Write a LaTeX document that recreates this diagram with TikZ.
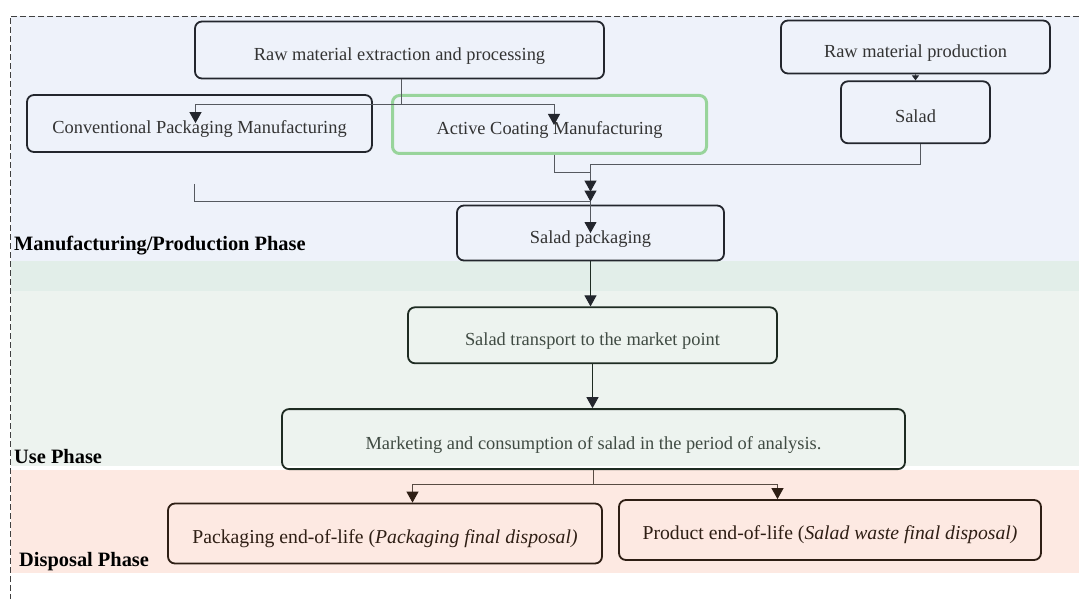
\documentclass[tikz,border=0pt]{standalone}
\usepackage{fontspec}
\setmainfont{Liberation Serif}
\usepackage{tikz}
\usetikzlibrary{positioning,arrows.meta,calc}
\definecolor{manufbg}{HTML}{EEF2FA}
\definecolor{gapbg}{HTML}{E2EEE9}
\definecolor{usebg}{HTML}{EDF3EF}
\definecolor{dispbg}{HTML}{FDE9E2}
\definecolor{mline}{HTML}{23262D}
\definecolor{uline}{HTML}{1E2B22}
\definecolor{dline}{HTML}{2E1E14}
\definecolor{coating}{HTML}{98D49B}
\definecolor{conn}{HTML}{55595F}
\tikzstyle{box1} = [rectangle, draw=mline, line width=1.8pt, rounded corners=7pt, %
   text=black!80, inner sep=0pt, font=\fontsize{18.4}{22}\selectfont, %
   text height=24.2pt, text depth=4pt]
\tikzstyle{box2} = [box1, draw=uline, text=uline!85]
\tikzstyle{box3} = [box1, draw=dline, text=dline, font=\fontsize{19.7}{24}\selectfont, %
   text height=23.6pt, text depth=4.4pt]
\tikzstyle{phase} = [inner sep=0pt, anchor=base west, font=\fontsize{20.4}{24}\selectfont\bfseries]
\tikzstyle{frame} = [draw=black!75, line width=0.8pt, dash pattern=on 6pt off 3pt]
\tikzstyle{line} = [draw=conn, line width=1pt, -{Triangle[length=11pt,width=12pt,color=mline]}]

\begin{document}
\begin{tikzpicture}[x=1pt,y=-1pt]
   \useasboundingbox (0,0) rectangle (1079,599);
   % Phase bands
   \fill[manufbg] (11,16) rectangle (1079,261);
   \fill[gapbg] (11,261) rectangle (1079,291);
   \fill[usebg] (11,291) rectangle (1079,466);
   \fill[dispbg] (11,470) rectangle (1079,573);
   \draw[frame] (1079,16) -- (10,16) -- (10,599);

   \node[phase] (manuflbl) at (14,250) {Manufacturing/Production Phase};
   \node[phase] (uselbl) at (14,463) {Use Phase};
   \node[phase] (displbl) at (19,566.5) {Disposal Phase};

   % MANUFACTURING %%%%%%%%%%%%%%%%%%%%%%%%%%%%%%%%%%%%%%%%%%%%%%%%%%
   \node[box1, minimum width=409pt, minimum height=57pt] (rawext) at (399.5,50) {%
      Raw material extraction and processing};
   \node[box1, minimum width=345pt, minimum height=57pt] (conv) at (199.5,123.5) {%
      Conventional Packaging Manufacturing};
   \node[box1, draw=coating, line width=3pt, minimum width=314pt, minimum height=58pt] %
      (coat) at (549.5,124.5) {Active Coating Manufacturing};
   \node[box1, minimum width=269pt, minimum height=53pt] (rawprod) at (915.5,47) {%
      Raw material production};
   \node[box1, below=6pt of rawprod, minimum width=149pt, minimum height=62pt] (salad) {Salad};
   \node[box1, minimum width=267pt, minimum height=55pt] (pack) at (590.5,233) {Salad packaging};

   % USE %%%%%%%%%%%%%%%%%%%%%%%%%%%%%%%%%%%%%%%%%%%%%%%%%%%%%%%%%%%%
   \node[box2, below=45pt of pack, xshift=2pt, minimum width=369pt, minimum height=56pt] %
      (transport) {Salad transport to the market point};
   \node[box2, below=44pt of transport, xshift=1pt, minimum width=623pt, minimum height=60pt] %
      (market) {Marketing and consumption of salad in the period of analysis.};

   % DISPOSAL %%%%%%%%%%%%%%%%%%%%%%%%%%%%%%%%%%%%%%%%%%%%%%%%%%%%%%%
   \node[box3, minimum width=434pt, minimum height=60pt] (pkgeol) at (385,533.5) {%
      Packaging end-of-life (\textit{Packaging final disposal)}};
   \node[box3, minimum width=422pt, minimum height=60pt] (prodeol) at (830,530) {%
      Product end-of-life (\textit{Salad waste final disposal)}};

   % Draw edges
   \path [line] ([xshift=2pt]rawext.south) -- ++(0,25) coordinate (forkA) -| %
      ([xshift=-4pt,yshift=-29pt]conv.north);
   \path [line] (forkA) -| ([xshift=4.5pt,yshift=-31pt]coat.north);
   \path [line, -{Triangle[length=5pt,width=7pt,color=mline]}] (rawprod.south) -- (salad.north);
   \path [line] ([xshift=5pt]coat.south) -- ++(0,17) -| ([yshift=3pt]pack.north);
   \path [line] ([xshift=4.5pt]salad.south) -- ++(0,20) -| ([yshift=13pt]pack.north);
   \coordinate (convtail) at ([xshift=-5pt,yshift=-31pt]conv.south);
   \path [line] (convtail) -- ++(0,18) -| (pack.center);
   \path [line, draw=uline] (pack.south) -- (pack.south |- transport.north);
   \path [line, draw=uline] (transport.south) -- (transport.south |- market.north);
   \path [line, draw=dline!80, -{Triangle[length=11pt,width=12pt,color=dline]}] %
      (market.south) -- ++(0,14) coordinate (forkB) -| ([xshift=27.5pt]pkgeol.north);
   \path [line, draw=dline!80, -{Triangle[length=11pt,width=12pt,color=dline]}] %
      (forkB) -| ([xshift=-52.5pt]prodeol.north);
\end{tikzpicture}
\end{document}
